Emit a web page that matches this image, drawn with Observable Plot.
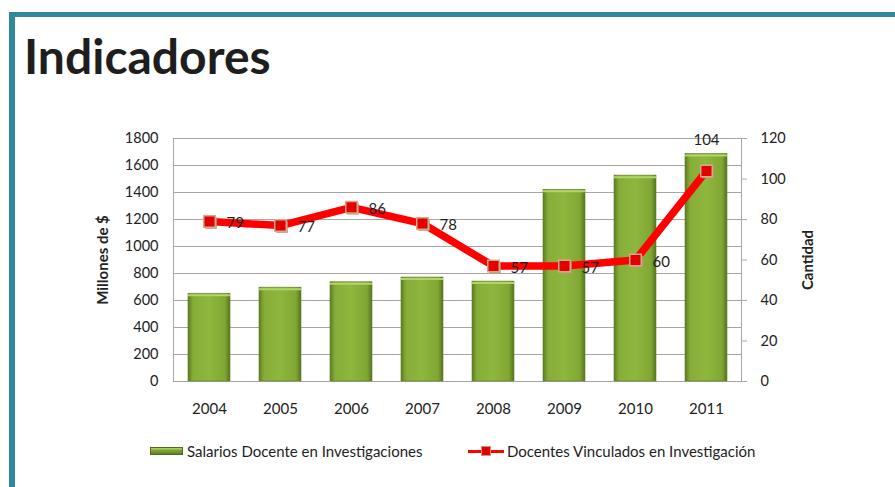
<!DOCTYPE html>
<html>
<head>
<meta charset="utf-8">
<script src="https://cdn.jsdelivr.net/npm/d3@7"></script>
<script src="https://cdn.jsdelivr.net/npm/@observablehq/plot@0.6"></script>
<style>
  html, body { margin: 0; padding: 0; background: #fff; width: 895px; height: 487px; overflow: hidden; font-family: Lato, "Open Sans", sans-serif; }
  #frame { position: absolute; left: 9px; top: 12px; right: -10px; bottom: -10px; border-left: 6px solid #31879b; border-top: 5px solid #31879b; }
  #title { position: absolute; left: 24px; top: 32px; font-size: 48px; font-weight: 700; color: #1e1e1e; line-height: 1; }
  #chart { position: absolute; left: 0; top: 120px; }
  .leg { position: absolute; top: 442px; font-size: 15px; color: #1e1e1e; display: flex; align-items: center; }
  .swatch-bar { width: 33px; height: 8px; background: linear-gradient(#b5d66a, #7fa733 40%, #5f7f22); border: 1px solid #4f6b1c; margin-right: 4px; box-sizing: border-box; }
  .swatch-line { position: relative; width: 36px; height: 16px; margin-right: 3px; }
  .swatch-line .ln { position: absolute; left: 0; right: 0; top: 7px; height: 3px; background: #ff0000; }
  .swatch-line .mk { position: absolute; left: 13px; top: 3px; width: 10px; height: 10px; background: #e00000; border: 1px solid #c89a7a; box-sizing: border-box; }
</style>
</head>
<body>
<div id="frame"></div>
<div id="title">Indicadores</div>
<div id="chart"></div>
<div class="leg" style="left:150px"><div class="swatch-bar"></div><span>Salarios Docente en Investigaciones</span></div>
<div class="leg" style="left:468px"><div class="swatch-line"><div class="ln"></div><div class="mk"></div></div><span>Docentes Vinculados en Investigación</span></div>
<script>
const years = ["2004", "2005", "2006", "2007", "2008", "2009", "2010", "2011"];
const salarios = [650, 695, 735, 770, 740, 1420, 1525, 1685];
const docentes = [79, 77, 86, 78, 57, 57, 60, 104];
const leftTicks = [0, 200, 400, 600, 800, 1000, 1200, 1400, 1600, 1800];
const rightTicks = [0, 20, 40, 60, 80, 100, 120];
const ratio = 1800 / 120;

const data = years.map((y, i) => ({year: y, salary: salarios[i], count: docentes[i]}));

const plot = Plot.plot({
  width: 895,
  height: 300,
  marginTop: 18,
  marginBottom: 39,
  marginLeft: 173,
  marginRight: 154,
  style: {fontFamily: "Lato, 'Open Sans', sans-serif", fontSize: "14px", color: "#222", background: "transparent"},
  x: {domain: years, paddingInner: 0.41, paddingOuter: 0.2, axis: null},
  y: {domain: [0, 1800], axis: null},
  marks: [
    Plot.gridY(leftTicks, {stroke: "#a6a6a6", strokeOpacity: 1}),
    Plot.frame({stroke: "#a6a6a6"}),
    Plot.axisX({tickSize: 0, tickPadding: 22, label: null, fontSize: 15}),
    Plot.axisY(leftTicks, {anchor: "left", tickSize: 0, tickPadding: 15, tickFormat: d => String(d), label: null, fontSize: 14.5}),
    Plot.axisY(rightTicks.map(d => d * ratio), {anchor: "right", tickSize: 5, tickPadding: 14, tickFormat: d => String(d / ratio), label: null, fontSize: 14.5, stroke: "#a6a6a6"}),
    Plot.text(["Millones de $"], {frameAnchor: "left", dx: -70, rotate: -90, textAnchor: "middle", fontWeight: "bold", fontSize: 15}),
    Plot.text(["Cantidad"], {frameAnchor: "right", dx: 67, rotate: -90, textAnchor: "middle", fontWeight: "bold", fontSize: 15}),
    Plot.barY(data, {x: "year", y: "salary", fill: "url(#barGrad)", stroke: "#5f7f22", strokeWidth: 0.6}),
    Plot.tickY(data, {x: "year", y: "salary", stroke: "#b3d468", strokeWidth: 2, dy: 1.5}),
    Plot.line(data, {x: "year", y: d => d.count * ratio, stroke: "#ff0000", strokeWidth: 7.5, strokeLinejoin: "round"}),
    Plot.dot(data, {x: "year", y: d => d.count * ratio, symbol: "square", r: 6.5, fill: "#bf9878", dx: 1.5, dy: 1.5}),
    Plot.dot(data, {x: "year", y: d => d.count * ratio, symbol: "square", r: 6.5, fill: "#e30000", stroke: "#d2a98a", strokeWidth: 1.5}),
    Plot.text(data.filter(d => d.year !== "2011"), {x: "year", y: d => d.count * ratio, text: d => String(d.count), textAnchor: "start", dx: 17, dy: 2, fontSize: 15, fill: "#1e1e1e"}),
    Plot.text(data.filter(d => d.year === "2011"), {x: "year", y: d => d.count * ratio, text: d => String(d.count), dy: -31, fontSize: 15, fill: "#1e1e1e"})
  ]
});

const svg = d3.select(plot);
const defs = svg.insert("defs", ":first-child");
const g = defs.append("linearGradient").attr("id", "barGrad").attr("x1", "0").attr("x2", "1").attr("y1", "0").attr("y2", "0");
g.append("stop").attr("offset", "0%").attr("stop-color", "#5c7b20");
g.append("stop").attr("offset", "12%").attr("stop-color", "#86ad38");
g.append("stop").attr("offset", "50%").attr("stop-color", "#8eb73e");
g.append("stop").attr("offset", "88%").attr("stop-color", "#80a733");
g.append("stop").attr("offset", "100%").attr("stop-color", "#56741d");

document.getElementById("chart").appendChild(plot);
</script>
</body>
</html>
